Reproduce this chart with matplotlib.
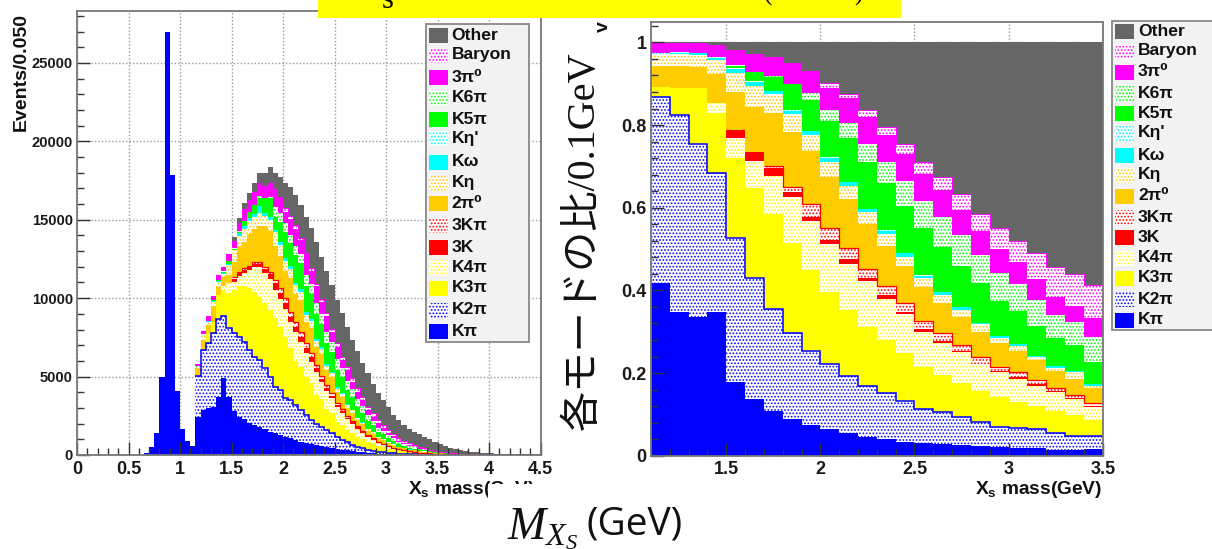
import numpy as np
import matplotlib
matplotlib.use("Agg")
import matplotlib.pyplot as plt
from matplotlib.patches import Rectangle
from matplotlib.ticker import MultipleLocator, FixedLocator, FuncFormatter

plt.rcParams['font.family'] = ['Liberation Sans', 'DejaVu Sans']
plt.rcParams['mathtext.fontset'] = 'custom'
plt.rcParams['mathtext.bf'] = 'Liberation Sans:bold'
plt.rcParams['mathtext.it'] = 'Liberation Serif:italic'
plt.rcParams['mathtext.rm'] = 'Liberation Sans'
plt.rcParams['hatch.linewidth'] = 0.8

# ---- Left panel: cumulative stack tops per 0.05 GeV bin, from 1.15 to 4.5 GeV
kpi_low = [0]*13 + [150, 490, 1380, 5000, 27000, 17870, 4090, 1660, 915, 575]
l_kpi = [2445,2870,2975,3040,3720,4895,3720,2830,2445,2275,
         2020,1915,1810,1640,1490,1380,1275,1170,1060,960,
         850,745,680,620,560,500,440,385,330,290,
         250,210,175,145,120,95,75,60,45,35,
         25,20,15,10,8,6,5,4,3,2,
         2,1,1,1,0,0,0,0,0,0,
         0,0,0,0,0,0,0]
l_k2pi = [5040,6700,7165,7760,8650,8865,8080,7760,7550,7230,
          6700,6270,6060,5530,5000,4360,4145,3615,3500,3200,
          2870,2550,2230,1995,1790,1570,1380,1170,960,800,
          650,530,430,340,270,215,170,130,100,80,
          60,50,40,30,25,20,15,12,9,7,
          5,4,3,2,2,1,1,1,0,0,
          0,0,0,0,0,0,0]
l_k3pi = [5100,6750,7770,8510,10210,10530,10360,10530,10745,10745,
          10640,10420,10100,9670,9250,8720,8190,7550,6800,6000,
          5630,5000,4580,3800,3540,2915,2690,2125,1940,1600,
          1430,1170,1030,810,705,560,500,405,335,270,
          230,180,160,130,115,90,75,60,50,38,
          30,22,16,12,9,7,5,4,3,2,
          2,1,1,1,0,0,0]
l_k4pi = [5100,6750,7770,8510,10210,10800,10960,11055,11415,11630,
          11800,11970,11970,11590,11200,10520,9930,9290,8500,7865,
          7230,6525,5950,5315,4680,4100,3615,3085,2660,2275,
          1975,1680,1380,1125,955,745,620,500,400,320,
          255,200,175,140,120,95,78,62,52,40,
          32,24,17,13,10,8,6,5,4,3,
          3,2,2,1,1,0,0]
l_3k = [5100,6750,7770,8510,10210,10800,10960,11200,11600,11800,
        12000,12180,12180,11840,11520,10950,10310,9670,8820,8185,
        7550,6800,6230,5530,4870,4295,3785,3210,2785,2380,
        2085,1785,1465,1190,1020,785,650,530,425,340,
        270,215,185,148,128,100,83,66,55,42,
        34,25,18,14,11,9,7,6,5,4,
        3,2,2,1,1,0,0]
l_3kpi = [5100,6750,7770,8510,10210,10800,10960,11375,11690,11950,
          12055,12310,12310,11970,11690,11160,10630,9990,9140,8500,
          7865,7120,6480,5740,5040,4465,3930,3340,2910,2490,
          2190,1870,1550,1255,1085,830,690,560,450,360,
          290,230,195,155,135,105,87,70,58,44,
          36,26,19,15,12,10,8,7,6,5,
          4,3,2,2,1,1,0]
l_2pi0 = [5530,7335,8290,9500,10735,11330,11480,12300,13300,13580,
          14090,14400,14620,14620,14300,13350,12700,11725,11300,10280,
          9885,8510,8095,6910,6425,5400,4975,4025,3680,3020,
          2705,2220,1955,1560,1355,1075,960,780,645,515,
          440,335,305,245,215,163,139,108,89,67,
          50,41,32,25,20,17,14,12,10,8,
          6,5,4,3,3,2,2]
l_keta = [5590,7630,8500,9780,11055,11545,12120,13115,13990,14400,
          14940,15180,15430,15250,15000,14200,13400,12400,11850,10810,
          10395,8950,8515,7290,6780,5655,5215,4240,3880,3190,
          2860,2335,2055,1655,1440,1120,1000,815,675,535,
          458,350,318,265,235,169,144,112,93,70,
          52,43,33,26,20,18,15,12,10,8,
          6,5,4,3,3,2,2]
l_komega = [5600,7650,8520,9820,11100,11600,12200,13050,14145,14580,
            15120,15340,15860,15400,15150,14350,13550,12590,12030,10980,
            10555,9090,8645,7410,6895,5775,5320,4310,3940,3240,
            2900,2385,2100,1675,1455,1140,1020,830,690,540,
            460,355,325,270,240,173,147,115,95,72,
            53,44,34,27,21,18,15,13,11,9,
            7,6,5,4,3,3,2]
l_ketap = l_komega
l_k5pi = [5640,7680,8550,9890,11170,11700,12350,13145,14250,14950,
          15505,15930,16385,16385,16370,15200,14880,14245,13500,12730,
          12250,10790,10265,8960,8335,7115,6560,5435,4970,4140,
          3710,3050,2685,2170,1885,1470,1315,1080,890,700,
          600,465,410,355,300,227,190,150,125,95,
          70,58,45,36,28,22,17,14,12,10,
          9,7,6,5,4,3,3]
l_k6pi = [5645,7685,8555,9895,11175,11705,12360,13170,14280,14950,
          15505,15960,16510,16400,16420,15840,15410,14780,14030,13330,
          12820,11460,10900,9670,8995,7820,7210,6090,5570,4730,
          4235,3540,3120,2520,2190,1740,1555,1280,1060,840,
          720,560,480,400,340,260,210,165,130,100,
          78,63,48,38,30,24,19,15,13,11,
          10,8,7,6,5,4,3]
l_3pi0 = [5800,7890,8865,10140,11480,12010,12820,13660,14810,15655,
          16240,16745,17320,17170,17330,16950,16430,15500,15050,14400,
          13720,12790,11760,10760,9750,8850,7820,6890,6050,5410,
          4650,4020,3510,2870,2440,2040,1720,1390,1180,920,
          790,620,510,420,350,270,220,170,135,105,
          80,65,50,40,32,25,20,16,14,12,
          11,9,8,7,6,5,4]
l_baryon = [5800,7890,8865,10140,11480,12010,12820,13660,14810,15655,
            16240,16745,17320,17170,17330,16950,16430,15730,15240,14670,
            13820,12905,11905,10905,9930,9035,8015,7120,6270,5635,
            4890,4250,3720,3080,2660,2230,1915,1595,1340,1060,
            915,745,620,510,430,340,280,220,175,140,
            110,90,70,55,45,35,30,25,20,18,
            15,13,12,10,9,8,7]
l_other = [5800,7890,8865,10140,11480,12010,12820,13925,15095,16090,
           16690,17370,17965,18000,18390,18000,17750,17370,17070,16580,
           15945,15200,14456,13600,12650,11760,10840,9886,9040,8180,
           7330,6630,5840,5200,4520,3930,3510,3080,2550,2230,
           1910,1640,1490,1318,1170,1000,850,700,595,470,
           360,320,255,210,170,150,130,100,80,70,
           60,50,45,40,35,30,25]

# ---- Right panel: cumulative fractions per 0.1 GeV bin, from 1.1 to 3.5 GeV
r_kpi = [.417,.348,.336,.348,.179,.137,.108,.088,.074,.064,.054,.046,.040,.034,.031,.028,.026,.023,.022,.019,.018,.014,.014,.016]
r_k2pi = [.869,.824,.754,.683,.526,.431,.356,.298,.254,.221,.193,.169,.151,.132,.113,.105,.094,.081,.070,.068,.065,.056,.048,.048]
r_k3pi = [.893,.890,.889,.828,.721,.647,.584,.514,.449,.397,.352,.312,.280,.248,.215,.195,.177,.156,.143,.131,.121,.109,.098,.086]
r_k4pi = [.893,.890,.889,.854,.769,.714,.677,.625,.568,.512,.464,.423,.379,.342,.300,.273,.250,.221,.202,.185,.169,.154,.137,.119]
r_3k = [.893,.890,.889,.854,.788,.735,.695,.639,.578,.522,.475,.429,.389,.348,.306,.278,.254,.223,.205,.190,.173,.156,.139,.121]
r_3kpi = [.893,.890,.889,.854,.788,.735,.701,.651,.609,.552,.502,.452,.410,.369,.327,.296,.269,.240,.215,.202,.183,.165,.148,.128]
r_2pi0 = [.943,.943,.941,.923,.881,.844,.828,.784,.737,.675,.620,.560,.508,.459,.407,.369,.335,.300,.273,.253,.231,.205,.185,.163]
r_keta = [.973,.973,.969,.957,.927,.895,.874,.826,.776,.711,.652,.589,.536,.481,.429,.390,.352,.318,.285,.265,.240,.213,.202,.169]
r_komega = [.973,.975,.974,.963,.935,.905,.882,.835,.785,.721,.661,.597,.544,.490,.435,.395,.359,.322,.290,.270,.242,.217,.205,.173]
r_ketap = [.974,.976,.975,.964,.937,.906,.883,.836,.786,.722,.662,.598,.545,.491,.436,.396,.360,.322,.290,.270,.242,.217,.205,.173]
r_k5pi = [.974,.976,.975,.964,.944,.929,.917,.899,.860,.810,.768,.710,.659,.605,.550,.506,.460,.417,.374,.350,.315,.285,.268,.227]
r_k6pi = [.974,.976,.975,.964,.946,.929,.919,.899,.877,.836,.804,.754,.711,.665,.616,.578,.534,.485,.443,.415,.377,.340,.324,.288]
r_3pi0 = [.999,.999,.999,.994,.981,.973,.964,.949,.931,.890,.865,.820,.777,.731,.681,.643,.594,.544,.500,.468,.427,.385,.363,.332]
r_baryon = [.999,.999,.999,.994,.981,.973,.964,.949,.931,.901,.875,.836,.796,.754,.710,.675,.632,.585,.552,.519,.490,.457,.440,.413]
r_other = [1.0]*24

labels = ["Kπ", "K2π", "K3π", "K4π", "3K", "3Kπ", "2π⁰", "Kη", "Kω", "Kη'", "K5π", "K6π", "3π⁰", "Baryon", "Other"]
colors = ["#0000ff", "#0000ff", "#ffff00", "#ffff00", "#ff0000", "#ff0000", "#ffcc00", "#ffcc00",
          "#00ffff", "#00ffff", "#00ff00", "#00ff00", "#ff00ff", "#ff00ff", "#666666"]
hatched = [False, True, False, True, False, True, False, True, False, True, False, True, False, True, False]
left_tops = [l_kpi, l_k2pi, l_k3pi, l_k4pi, l_3k, l_3kpi, l_2pi0, l_keta, l_komega, l_ketap, l_k5pi, l_k6pi, l_3pi0, l_baryon, l_other]
right_tops = [r_kpi, r_k2pi, r_k3pi, r_k4pi, r_3k, r_3kpi, r_2pi0, r_keta, r_komega, r_ketap, r_k5pi, r_k6pi, r_3pi0, r_baryon, r_other]

W, H = 1212, 549
fig = plt.figure(figsize=(W/100, H/100), dpi=100, facecolor='white')

def axes_px(x0, y0, x1, y1):
    return fig.add_axes([x0/W, 1-y1/H, (x1-x0)/W, (y1-y0)/H])

HATCH = '.....'
OUTLINED = {"K2π": 1.1, "3Kπ": 0.9, "Baryon": 0.7}

def draw_stack(ax, edges, tops):
    prev = np.zeros(len(edges)-1)
    for i, top in enumerate(tops):
        top = np.asarray(top, float)
        if hatched[i]:
            ax.stairs(top, edges, baseline=prev, fill=True, facecolor='white', edgecolor=colors[i],
                      hatch=HATCH, linewidth=0, zorder=1+i*0.01)
        else:
            ax.stairs(top, edges, baseline=prev, fill=True, facecolor=colors[i], linewidth=0, zorder=1+i*0.01)
        # an outline only where this mode has a visible band
        if labels[i] in OUTLINED:
            start = int(np.argmax(top > prev))
            ax.stairs(top[start:], edges[start:], baseline=None, color=colors[i],
                      linewidth=OUTLINED[labels[i]], zorder=1.5)
        prev = top

def style(ax, xmajor, xminor, ymajor, yminor):
    ax.xaxis.set_major_locator(FixedLocator(xmajor))
    ax.xaxis.set_minor_locator(MultipleLocator(xminor))
    ax.yaxis.set_major_locator(FixedLocator(ymajor))
    ax.yaxis.set_minor_locator(MultipleLocator(yminor))
    ax.tick_params(which='major', direction='in', length=9.4, width=1.0, color='#333333')
    ax.tick_params(which='minor', direction='in', length=4.7, width=1.0, color='#333333')
    ax.tick_params(axis='x', which='major', labelsize=13, pad=4)
    ax.tick_params(axis='y', which='major', labelsize=10.6, pad=3)
    for lab in ax.get_xticklabels() + ax.get_yticklabels():
        lab.set_fontweight('bold')
        lab.set_color('#1a1a1a')
    for s in ax.spines.values():
        s.set_color('#777777')
        s.set_linewidth(1.3)
    for x in xmajor:
        ax.axvline(x, color='#999999', ls=(0, (1, 1.5)), lw=1.0, zorder=0)
    for y in ymajor:
        ax.axhline(y, color='#999999', ls=(0, (1, 1.5)), lw=1.0, zorder=0)

# ---- left histogram
axL = axes_px(77, 10.7, 540.5, 455)
low_edges = np.linspace(0, 1.15, 24)
high_edges = np.linspace(1.15, 4.5, 68)
axL.stairs(kpi_low, low_edges, fill=True, facecolor='#0000ff', linewidth=0, zorder=1)
draw_stack(axL, high_edges, left_tops)
axL.set_xlim(0, 4.5)
axL.set_ylim(0, 28330)
style(axL, [0, .5, 1, 1.5, 2, 2.5, 3, 3.5, 4, 4.5], 0.1, [0, 5000, 10000, 15000, 20000, 25000], 1000)
axL.xaxis.set_major_formatter(FuncFormatter(lambda v, p: f"{v:g}"))
axL.yaxis.set_major_formatter(FuncFormatter(lambda v, p: f"{v:g}"))

# ---- right histogram
axR = axes_px(651, 21.7, 1102.7, 455.7)
r_edges = np.linspace(1.1, 3.5, 25)
draw_stack(axR, r_edges, right_tops)
axR.set_xlim(1.1, 3.5)
axR.set_ylim(0, 1.05)
style(axR, [1.5, 2, 2.5, 3, 3.5], 0.1, [0, .2, .4, .6, .8, 1], 0.04)
axR.xaxis.set_major_formatter(FuncFormatter(lambda v, p: f"{v:g}"))
axR.yaxis.set_major_formatter(FuncFormatter(lambda v, p: f"{v:g}"))
axR.tick_params(axis='y', which='major', labelsize=13, pad=3)
for lab in axR.get_yticklabels():
    lab.set_fontweight('bold')

# ---- overlay in pixel coordinates
ov = fig.add_axes([0, 0, 1, 1], zorder=20)
ov.set_xlim(0, W)
ov.set_ylim(H, 0)
ov.axis('off')
ov.patch.set_alpha(0)

def legend(box, patch_x, text_x, ys, fs):
    x0, y0, x1, y1 = box
    ov.add_patch(Rectangle((x0, y0), x1-x0, y1-y0, facecolor='#f2f2f2', edgecolor='#888888', lw=1.3))
    for i in range(len(labels)):
        y = ys[i]
        if hatched[i]:
            ov.add_patch(Rectangle((patch_x, y-7.5), 19, 15, facecolor='white', edgecolor=colors[i], hatch='.....', lw=0))
        else:
            ov.add_patch(Rectangle((patch_x, y-7.5), 19, 15, facecolor=colors[i], edgecolor='none'))
        ov.text(text_x, y, labels[i], fontsize=fs, fontweight='bold', va='center', ha='left', color='#111111')

left_ys = [331, 310, 288, 267, 247, 225, 203, 183, 162, 138, 119, 98, 77, 55, 35]
right_ys = [320, 299, 278, 258, 237, 217, 196, 175, 155, 133, 113, 93, 72, 51, 31]
legend((426, 24, 529, 342), 429, 451.5, left_ys, 12.6)
legend((1112, 21, 1230, 330), 1115, 1138, right_ys, 12.6)

# axis titles
ov.text(21, 72, "Events/0.050", rotation=90, fontsize=14, fontweight='bold', ha='center', va='center', color='#111111')
ov.text(408, 489, r"$\mathbf{X_s}$ mass(GeV)", fontsize=13.8, fontweight='bold', ha='left', va='center', color='#111111')
ov.text(1102, 489, r"$\mathbf{X_s}$ mass(GeV)", fontsize=13.8, fontweight='bold', ha='right', va='center', color='#111111')
# the slide's white box hides the end of the left axis title
ov.add_patch(Rectangle((488, 484), 300, 65, facecolor='white', edgecolor='none', zorder=4))

# slide overlays
ov.add_patch(Rectangle((318, 0), 583, 17.5, facecolor='#ffff00', edgecolor='none'))
ov.text(388, 8, "s", family='Liberation Serif', fontsize=22, ha='center', va='baseline', color='black', clip_on=True)
ov.text(768, 1, "(", family='Liberation Serif', fontsize=18, ha='center', va='baseline', color='black', clip_on=True)
ov.text(858, 1, ")", family='Liberation Serif', fontsize=18, ha='center', va='baseline', color='black', clip_on=True)
ov.text(603, 27, "v", rotation=90, fontsize=14, fontweight='bold', ha='center', va='center', color='#111111')
ov.text(584, 241, "各モードの比/0.1GeV", rotation=90, family=['Liberation Serif', 'Noto Sans CJK JP'],
        fontsize=29, ha='center', va='center', color='#111111')
ov.text(507, 539, r"$M_{X_S}$", fontsize=33, ha='left', va='baseline', color='#111111', zorder=5)
ov.text(587, 535, "(GeV)", family='Open Sans', fontsize=28, ha='left', va='baseline', color='#111111', zorder=5)

fig.savefig("out.png", dpi=100, facecolor='white')
